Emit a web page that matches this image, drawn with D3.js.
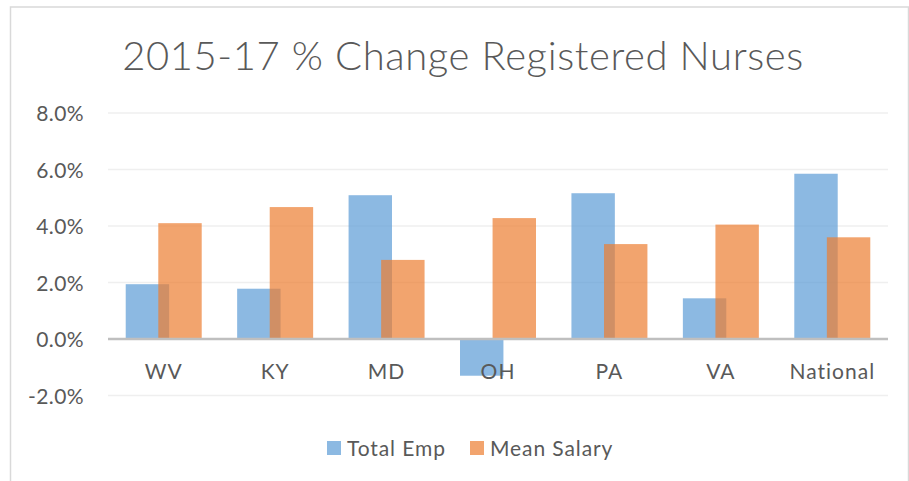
<!DOCTYPE html>
<html>
<head>
<meta charset="utf-8">
<script src="https://cdn.jsdelivr.net/npm/d3@7"></script>
<style>
  body { margin: 0; background: #fff; }
  svg text { font-family: Lato, "Open Sans", sans-serif; fill: #595959; }
</style>
</head>
<body>
<div id="chart"></div>
<script>
// data
const states = ["WV", "KY", "MD", "OH", "PA", "VA", "National"]
const totalEmp = [1.94, 1.78, 5.09, -1.30, 5.16, 1.44, 5.85]
const meanSalary = [4.10, 4.67, 2.80, 4.28, 3.36, 4.05, 3.60]
const seriesNames = ["Total Emp", "Mean Salary"]
const seriesColors = ["#5B9BD5", "#ED7D31"]
const yTicks = [-2, 0, 2, 4, 6, 8]

function draw() {
    let dimensions = {
        width: 909,
        height: 481,
        left: 108,
        right: 888,
        top: 113,
        bottom: 395.5,
    }

    const svg = d3.select('#chart')
        .append("svg")
        .attr("width", dimensions.width)
        .attr("height", dimensions.height)

    // chart border
    svg.append("rect")
        .attr("x", 10.5)
        .attr("y", 7)
        .attr("width", 898)
        .attr("height", 490)
        .attr("fill", "none")
        .attr("stroke", "#d9d9d9")
        .attr("stroke-width", 1.5)

    // title
    svg.append("text")
        .attr("x", 463)
        .attr("y", 70)
        .attr("text-anchor", "middle")
        .style("font-size", "40px")
        .style("font-weight", 300)
        .style("letter-spacing", "0.6px")
        .text("2015-17 % Change Registered Nurses")

    // scales
    const x = d3.scaleBand()
        .domain(states)
        .range([dimensions.left, dimensions.right])
        .paddingInner(0.318)
        .paddingOuter(0.159)

    const y = d3.scaleLinear()
        .domain([-2, 8])
        .range([dimensions.bottom, dimensions.top])

    // gridlines
    svg.append("g")
        .selectAll("line")
        .data(yTicks.filter(d => d !== 0))
        .join("line")
        .attr("x1", dimensions.left)
        .attr("x2", dimensions.right)
        .attr("y1", d => y(d))
        .attr("y2", d => y(d))
        .attr("stroke", "#efefef")
        .attr("stroke-width", 1.5)

    // y labels
    const yAxis = svg.append("g")
        .attr("transform", `translate(${dimensions.left - 24},0)`)
        .call(d3.axisLeft(y).tickValues(yTicks).tickSize(0).tickFormat(d => d.toFixed(1) + "%"))
    yAxis.select(".domain").remove()
    yAxis.selectAll("text")
        .attr("x", 0)
        .attr("dy", "0.36em")
        .style("font-size", "21px")
        .style("letter-spacing", "0.4px")
        .style("font-family", null)
        .attr("fill", null)

    // bars
    const barW = x.bandwidth() / 1.75
    const sub = d3.scaleOrdinal().domain(seriesNames).range([0, x.bandwidth() - barW])
    const rows = states.map((s, i) => ({ state: s, values: [totalEmp[i], meanSalary[i]] }))

    seriesNames.forEach((name, k) => {
        svg.append("g")
            .selectAll("rect")
            .data(rows)
            .join("rect")
            .attr("x", d => x(d.state) + sub(name))
            .attr("width", barW)
            .attr("y", d => y(Math.max(0, d.values[k])))
            .attr("height", d => Math.abs(y(d.values[k]) - y(0)))
            .attr("fill", seriesColors[k])
            .attr("fill-opacity", 0.7)
    })

    // zero axis line
    svg.append("line")
        .attr("x1", dimensions.left)
        .attr("x2", dimensions.right)
        .attr("y1", y(0))
        .attr("y2", y(0))
        .attr("stroke", "#bfbfbf")
        .attr("stroke-width", 2.5)

    // category labels
    const xAxis = svg.append("g")
        .attr("transform", `translate(0,${y(0)})`)
        .call(d3.axisBottom(x).tickSize(0))
    xAxis.select(".domain").remove()
    xAxis.selectAll("text")
        .attr("dy", "0.36em")
        .attr("y", 32)
        .style("font-size", "21px")
        .style("letter-spacing", "1px")
        .style("font-family", null)
        .attr("fill", null)

    // legend
    const legendX = [327, 470]
    const legend = svg.append("g")
        .selectAll("g")
        .data(seriesNames)
        .join("g")
        .attr("transform", (d, i) => `translate(${legendX[i]},441)`)
    legend.append("rect")
        .attr("width", 14)
        .attr("height", 14)
        .attr("fill", (d, i) => seriesColors[i])
        .attr("fill-opacity", 0.7)
    legend.append("text")
        .attr("x", 20)
        .attr("y", 7)
        .attr("dy", "0.36em")
        .style("font-size", "21px")
        .style("letter-spacing", "0.9px")
        .text(d => d)
}
draw()
</script>
</body>
</html>
